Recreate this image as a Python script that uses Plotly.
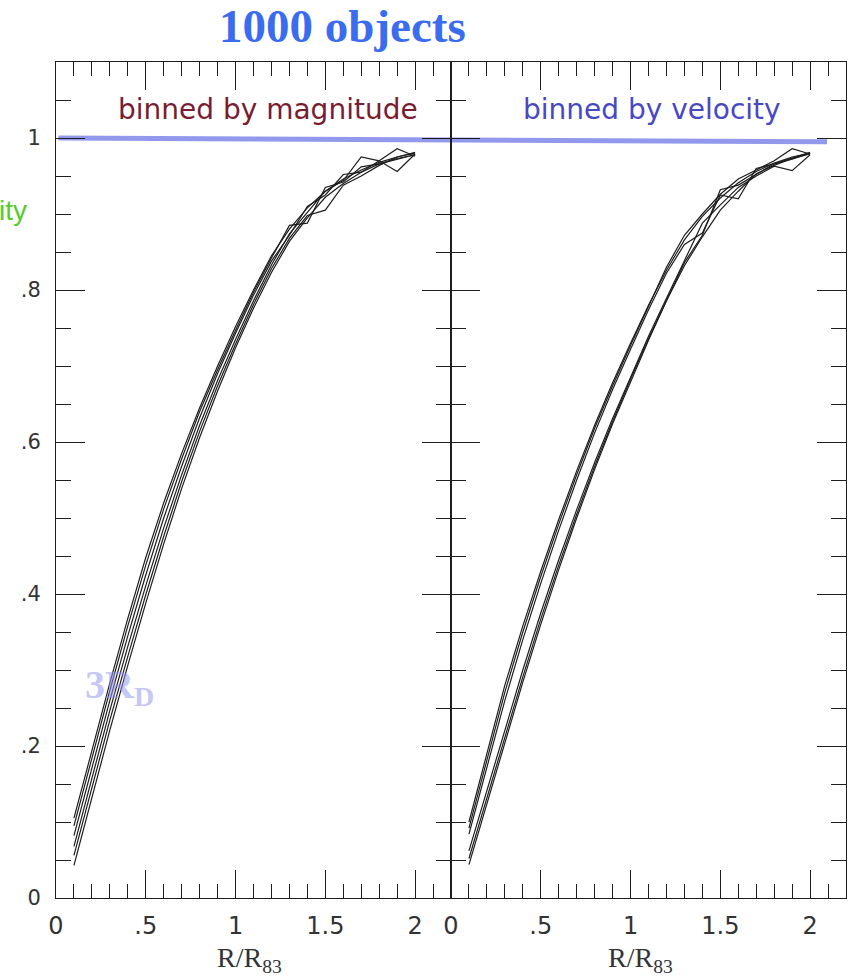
import plotly.graph_objects as go

# Radius in units of R83 at which each binned profile is sampled
R_GRID = [0.1, 0.2, 0.3, 0.4, 0.5, 0.6, 0.7, 0.8, 0.9, 1.0,
          1.1, 1.2, 1.3, 1.4, 1.5, 1.6, 1.7, 1.8, 1.9, 2.0]

# Profiles binned by magnitude (left panel)
MAG_1 = [0.105, 0.195, 0.283, 0.368, 0.448, 0.520, 0.585, 0.645, 0.700, 0.752,
         0.800, 0.845, 0.880, 0.908, 0.930, 0.946, 0.958, 0.968, 0.975, 0.980]
MAG_2 = [0.095, 0.185, 0.273, 0.358, 0.438, 0.512, 0.578, 0.640, 0.695, 0.747,
         0.797, 0.842, 0.885, 0.888, 0.935, 0.942, 0.962, 0.966, 0.972, 0.978]
MAG_3 = [0.082, 0.172, 0.260, 0.345, 0.425, 0.500, 0.568, 0.632, 0.690, 0.743,
         0.793, 0.838, 0.872, 0.910, 0.925, 0.952, 0.955, 0.970, 0.986, 0.976]
MAG_4 = [0.068, 0.158, 0.247, 0.331, 0.411, 0.487, 0.557, 0.622, 0.681, 0.735,
         0.786, 0.833, 0.874, 0.902, 0.930, 0.944, 0.975, 0.970, 0.956, 0.979]
MAG_5 = [0.056, 0.145, 0.234, 0.318, 0.399, 0.476, 0.548, 0.614, 0.674, 0.729,
         0.781, 0.828, 0.868, 0.898, 0.905, 0.938, 0.950, 0.964, 0.975, 0.981]
MAG_6 = [0.043, 0.132, 0.221, 0.306, 0.388, 0.466, 0.539, 0.606, 0.667, 0.724,
         0.776, 0.823, 0.864, 0.895, 0.922, 0.940, 0.955, 0.966, 0.973, 0.978]

# Profiles binned by velocity (right panel)
VEL_1 = [0.100, 0.192, 0.280, 0.358, 0.430, 0.498, 0.562, 0.622, 0.678, 0.730,
         0.780, 0.826, 0.866, 0.897, 0.921, 0.941, 0.956, 0.967, 0.975, 0.980]
VEL_2 = [0.092, 0.183, 0.271, 0.350, 0.423, 0.492, 0.557, 0.618, 0.674, 0.727,
         0.778, 0.830, 0.872, 0.900, 0.926, 0.946, 0.958, 0.970, 0.986, 0.979]
VEL_3 = [0.084, 0.173, 0.260, 0.340, 0.414, 0.484, 0.550, 0.612, 0.669, 0.722,
         0.774, 0.822, 0.860, 0.875, 0.925, 0.920, 0.960, 0.966, 0.974, 0.981]
VEL_4 = [0.062, 0.142, 0.222, 0.300, 0.375, 0.445, 0.511, 0.573, 0.631, 0.686,
         0.739, 0.789, 0.838, 0.888, 0.912, 0.935, 0.950, 0.963, 0.957, 0.978]
VEL_5 = [0.052, 0.132, 0.212, 0.291, 0.367, 0.438, 0.505, 0.568, 0.627, 0.683,
         0.736, 0.787, 0.836, 0.872, 0.932, 0.938, 0.952, 0.966, 0.972, 0.980]
VEL_6 = [0.044, 0.124, 0.204, 0.284, 0.360, 0.432, 0.500, 0.564, 0.624, 0.680,
         0.734, 0.786, 0.832, 0.870, 0.905, 0.930, 0.953, 0.964, 0.973, 0.979]

MAG_SERIES = [MAG_1, MAG_2, MAG_3, MAG_4, MAG_5, MAG_6]
VEL_SERIES = [VEL_1, VEL_2, VEL_3, VEL_4, VEL_5, VEL_6]

X_TICKS = [0, 0.5, 1, 1.5, 2]
X_TICK_TEXT = ["0", ".5", "1", "1.5", "2"]
Y_TICKS = [0, 0.2, 0.4, 0.6, 0.8, 1.0]
Y_TICK_TEXT = ["0", ".2", ".4", ".6", ".8", "1"]

X_RANGE = [0, 2.2]
Y_RANGE = [0, 1.1]

INK = "#1e1e1e"
TICK_FONT = "DejaVu Sans"

fig = go.Figure()
for ys in MAG_SERIES:
    fig.add_trace(go.Scatter(x=R_GRID, y=ys, mode="lines", xaxis="x", yaxis="y",
                             line=dict(color=INK, width=1.2), showlegend=False))
for ys in VEL_SERIES:
    fig.add_trace(go.Scatter(x=R_GRID, y=ys, mode="lines", xaxis="x2", yaxis="y2",
                             line=dict(color=INK, width=1.2), showlegend=False))
# Empty traces so the overlaid fine-tick axes get drawn
for xa, ya in (("x3", "y3"), ("x4", "y4")):
    fig.add_trace(go.Scatter(x=[], y=[], mode="lines", xaxis=xa, yaxis=ya,
                             showlegend=False, hoverinfo="skip"))

# Major (labelled) axes
x_major = dict(
    range=X_RANGE, showline=True, linecolor=INK, linewidth=1.4, mirror="ticks",
    ticks="inside", ticklen=28, tickwidth=1.3, tickcolor=INK,
    tickmode="array", tickvals=X_TICKS, ticktext=X_TICK_TEXT,
    tickfont=dict(family=TICK_FONT, size=24, color="#333"),
    ticklabelstandoff=6, showgrid=False, zeroline=False,
)
y_major = dict(
    range=Y_RANGE, showline=True, linecolor=INK, linewidth=1.1, mirror="ticks",
    ticks="inside", ticklen=29, tickwidth=1.3, tickcolor=INK,
    tickmode="array", tickvals=Y_TICKS, showgrid=False, zeroline=False,
)
# Overlaid axes carrying the short intermediate ticks
x_fine = dict(range=X_RANGE, showline=False, mirror="ticks", ticks="inside",
              ticklen=14, tickwidth=1.3, tickcolor=INK, tickmode="linear",
              tick0=0, dtick=0.1, showticklabels=False, showgrid=False, zeroline=False)
y_fine = dict(range=Y_RANGE, showline=False, mirror="ticks", ticks="inside",
              ticklen=15, tickwidth=1.3, tickcolor=INK, tickmode="linear",
              tick0=0, dtick=0.05, showticklabels=False, showgrid=False, zeroline=False)

fig.update_layout(
    width=862, height=980,
    margin=dict(l=56, r=16, t=62, b=82),
    paper_bgcolor="white", plot_bgcolor="rgba(0,0,0,0)",
    xaxis=dict(domain=[0, 0.5], anchor="y", **x_major),
    xaxis2=dict(domain=[0.5, 1], anchor="y2", **x_major),
    xaxis3=dict(domain=[0, 0.5], anchor="y3", overlaying="x", **x_fine),
    xaxis4=dict(domain=[0.5, 1], anchor="y4", overlaying="x2", **x_fine),
    yaxis=dict(anchor="x", ticktext=Y_TICK_TEXT,
               tickfont=dict(family=TICK_FONT, size=21, color="#333"),
               ticklabelstandoff=10, **y_major),
    yaxis2=dict(anchor="x2", showticklabels=False, **y_major),
    yaxis3=dict(anchor="x3", overlaying="y", **y_fine),
    yaxis4=dict(anchor="x4", overlaying="y2", **y_fine),
)

# Highlight of the asymptotic level across both panels
fig.add_shape(type="line", xref="paper", yref="y", x0=0.003, x1=0.976, y0=1.0, y1=0.995,
              line=dict(color="rgba(100,110,228,0.7)", width=5), layer="below")

annotations = [
    dict(text="<b>1000 objects</b>", xref="paper", yref="paper", x=0.363, y=1.0,
         yshift=36, xanchor="center", yanchor="middle", showarrow=False,
         font=dict(family="Liberation Serif", size=47, color="#3b6cf0")),
    dict(text="binned by magnitude", xref="x", yref="y", x=1.18, y=1.037,
         xanchor="center", yanchor="middle", showarrow=False,
         font=dict(family="DejaVu Sans", size=28, color="#7a1c30")),
    dict(text="binned by velocity", xref="x2", yref="y2", x=1.12, y=1.037,
         xanchor="center", yanchor="middle", showarrow=False,
         font=dict(family="DejaVu Sans", size=28, color="#4848c4")),
    dict(text="ity", xref="paper", yref="y", x=-0.034, y=0.905,
         xanchor="right", yanchor="middle", showarrow=False,
         font=dict(family="Liberation Sans", size=28, color="#55cc2a")),
    dict(text="<b>3R<sub>D</sub></b>", xref="x", yref="y", x=0.15, y=0.278,
         xanchor="left", yanchor="middle", showarrow=False,
         font=dict(family="Liberation Serif", size=40, color="rgba(150,150,240,0.55)")),
    dict(text="R/R<sub>83</sub>", xref="x domain", yref="paper", x=0.49, y=0,
         yshift=-42, xanchor="center", yanchor="top", showarrow=False,
         font=dict(family="Liberation Serif", size=28, color="#333")),
    dict(text="R/R<sub>83</sub>", xref="x2 domain", yref="paper", x=0.48, y=0,
         yshift=-42, xanchor="center", yanchor="top", showarrow=False,
         font=dict(family="Liberation Serif", size=28, color="#333")),
]
fig.update_layout(annotations=annotations)

fig.write_html("out.html")
